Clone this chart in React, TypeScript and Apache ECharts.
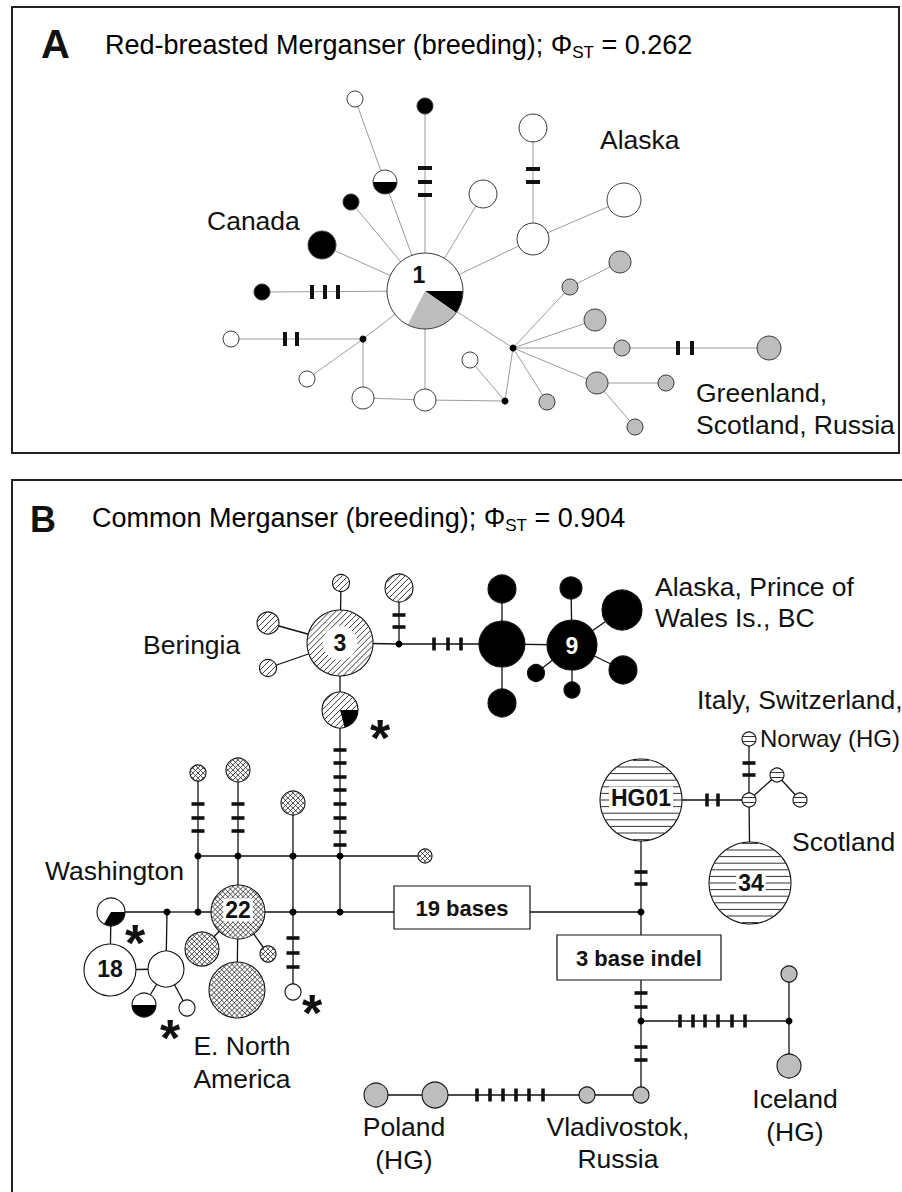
import React, { useEffect, useRef } from "react";
import * as echarts from "echarts";

// ---------- data ----------
// haplotype nodes: id, x, y, radius (haplotype frequency), population class
type Node = [string, number, number, number, string];

const nodesA: Node[] = [
  ["a1", 425, 291, 38, "W"],
  ["aTopW", 355, 99, 8, "W"],
  ["aTopK", 425, 106, 8, "K"],
  ["aHalf", 385, 182, 12, "W"],
  ["aK1", 351, 202, 8, "K"],
  ["aCan", 322, 245, 14, "K"],
  ["aKL", 262, 292, 8, "K"],
  ["aWL", 231, 339, 8, "W"],
  ["aD1", 363, 339, 3.5, "D"],
  ["aW2", 307, 379, 8, "W"],
  ["aW3", 363, 398, 11, "W"],
  ["aW4", 425, 400, 11, "W"],
  ["aD2", 505, 401, 3.5, "D"],
  ["aW5", 470, 360, 8, "W"],
  ["aD3", 513, 348, 3.5, "D"],
  ["aG1", 570, 287, 8, "G"],
  ["aG2", 620, 262, 11, "G"],
  ["aG3", 595, 320, 11, "G"],
  ["aG4", 622, 348, 8, "G"],
  ["aG5", 769, 348, 12, "G"],
  ["aG6", 597, 383, 11, "G"],
  ["aG7", 666, 383, 8, "G"],
  ["aG8", 635, 427, 8, "G"],
  ["aG9", 547, 402, 8, "G"],
  ["aW6", 483, 194, 14, "W"],
  ["aW7", 533, 239, 16, "W"],
  ["aW8", 533, 128, 14, "W"],
  ["aW9", 624, 200, 17, "W"],
];

const edgesA: [string, string][] = [
  ["aTopW", "aHalf"], ["aHalf", "a1"], ["aTopK", "a1"], ["aK1", "a1"], ["aCan", "a1"],
  ["aKL", "a1"], ["aWL", "aD1"], ["aD1", "a1"], ["aD1", "aW2"], ["aD1", "aW3"],
  ["aW3", "aW4"], ["aW4", "a1"], ["aW4", "aD2"], ["aD2", "aD3"], ["aD2", "aW5"],
  ["aD3", "a1"], ["aD3", "aG1"], ["aG1", "aG2"], ["aD3", "aG3"], ["aD3", "aG4"],
  ["aG4", "aG5"], ["aD3", "aG6"], ["aG6", "aG7"], ["aG6", "aG8"], ["aD3", "aG9"],
  ["a1", "aW6"], ["a1", "aW7"], ["aW7", "aW8"], ["aW7", "aW9"],
];

const nodesB: Node[] = [
  ["b3", 340, 643, 33, "DG"],
  ["bTop", 341, 583, 8.5, "DG"],
  ["bUL", 268, 623, 11, "DG"],
  ["bLL", 268, 668, 8.5, "DG"],
  ["bLow", 340, 710, 18, "DG"],
  ["bDot1", 399, 644, 3.5, "D"],
  ["bTR", 399, 588, 14, "DG"],
  ["bK", 502, 644, 23, "K"],
  ["bKt", 502, 589, 14, "K"],
  ["bKb", 502, 703, 14, "K"],
  ["b9", 572, 645, 25, "K"],
  ["b9t", 571, 588, 11, "K"],
  ["b9rt", 622, 610, 20, "K"],
  ["b9r", 623, 670, 14, "K"],
  ["b9ll", 536, 673, 8.5, "K"],
  ["b9b", 572, 690, 8, "K"],
  ["bV", 340, 856, 3.5, "D"],
  ["bH1", 198, 856, 3.5, "D"],
  ["bH2", 238, 856, 3.5, "D"],
  ["bH3", 293, 856, 3.5, "D"],
  ["bX1", 198, 773, 8, "X"],
  ["bX2", 238, 770, 12, "X"],
  ["bX3", 293, 803, 12, "X"],
  ["bX4", 425, 856, 7, "X"],
  ["bWash", 111, 912, 14, "W"],
  ["bL1", 167, 912, 3.5, "D"],
  ["bL2", 198, 912, 3.5, "D"],
  ["b22", 238, 912, 27, "X"],
  ["bL3", 293, 912, 3.5, "D"],
  ["bL4", 340, 912, 3.5, "D"],
  ["b19L", 394, 912, 0, "N"],
  ["b19R", 530, 912, 0, "N"],
  ["b18", 110, 970, 26, "W"],
  ["bOpen", 166, 969, 18, "W"],
  ["bHalf", 144, 1005, 12, "W"],
  ["bSm", 187, 1008, 8, "W"],
  ["bX5", 237, 990, 28, "X"],
  ["bX6", 202, 949, 17, "X"],
  ["bX7", 268, 954, 8, "X"],
  ["bW293", 293, 992, 8, "W"],
  ["bHG01", 641, 800, 41, "HZ"],
  ["bHJ", 749, 800, 7, "HZ"],
  ["bHT", 749, 739, 7, "HZ"],
  ["bHM", 777, 775, 7, "HZ"],
  ["bHR", 800, 800, 7, "HZ"],
  ["b34", 750, 883, 41, "HZ"],
  ["bD19", 641, 912, 3.5, "D"],
  ["bDI", 641, 1021, 3.5, "D"],
  ["bGV", 641, 1095, 8, "G"],
  ["bGV2", 587, 1095, 8, "G"],
  ["bPol2", 435, 1095, 13, "G"],
  ["bPol1", 376, 1095, 12, "G"],
  ["bDIce", 789, 1021, 3.5, "D"],
  ["bIceT", 789, 974, 8, "G"],
  ["bIceB", 789, 1066, 12, "G"],
];

const edgesB: [string, string][] = [
  ["b3", "bTop"], ["b3", "bUL"], ["b3", "bLL"], ["b3", "bLow"], ["b3", "bDot1"],
  ["bDot1", "bTR"], ["bDot1", "bK"], ["bK", "bKt"], ["bK", "bKb"], ["bK", "b9"],
  ["b9", "b9t"], ["b9", "b9rt"], ["b9", "b9r"], ["b9", "b9ll"], ["b9", "b9b"],
  ["bLow", "bV"], ["bV", "bL4"], ["bH1", "bH2"], ["bH2", "bH3"], ["bH3", "bV"], ["bV", "bX4"],
  ["bX1", "bH1"], ["bH1", "bL2"], ["bX2", "bH2"], ["bH2", "b22"], ["bX3", "bH3"], ["bH3", "bL3"],
  ["bL3", "bW293"],
  ["bWash", "bL1"], ["bL1", "bL2"], ["bL2", "b22"], ["b22", "bL3"], ["bL3", "bL4"], ["bL4", "b19L"],
  ["b19R", "bD19"],
  ["bWash", "b18"], ["b18", "bOpen"], ["bOpen", "bL1"], ["bOpen", "bHalf"], ["bOpen", "bSm"],
  ["b22", "bX5"], ["b22", "bX6"], ["b22", "bX7"],
  ["bHG01", "bD19"], ["bD19", "bDI"], ["bDI", "bGV"], ["bGV", "bGV2"], ["bGV2", "bPol2"], ["bPol2", "bPol1"],
  ["bDI", "bDIce"], ["bDIce", "bIceT"], ["bDIce", "bIceB"],
  ["bHG01", "bHJ"], ["bHJ", "bHT"], ["bHJ", "b34"], ["bHJ", "bHM"], ["bHM", "bHR"],
];

// mutation steps: x, y, orientation (h = bar across a vertical branch, v = bar across a horizontal branch)
const ticksA: [number, number, string][] = [
  [425, 168, "h"], [425, 182, "h"], [425, 195, "h"],
  [533, 169, "h"], [533, 182, "h"],
  [312, 292, "v"], [325, 292, "v"], [338, 292, "v"],
  [285, 339, "v"], [297, 339, "v"],
  [678, 348, "v"], [692, 348, "v"],
];

const ticksB: [number, number, string][] = [
  [399, 615, "h"], [399, 627, "h"],
  [340, 750, "h"], [340, 763, "h"], [340, 777, "h"], [340, 790, "h"],
  [340, 804, "h"], [340, 818, "h"], [340, 832, "h"], [340, 845, "h"],
  [198, 804, "h"], [198, 818, "h"], [198, 831, "h"],
  [238, 804, "h"], [238, 818, "h"], [238, 831, "h"],
  [293, 938, "h"], [293, 953, "h"], [293, 967, "h"],
  [641, 872, "h"], [641, 884, "h"],
  [641, 993, "h"], [641, 1007, "h"],
  [641, 1047, "h"], [641, 1060, "h"],
  [749, 763, "h"], [749, 775, "h"],
  [434, 644, "v"], [448, 644, "v"], [461, 644, "v"],
  [707, 800, "v"], [718, 800, "v"],
  [680, 1021, "v"], [693, 1021, "v"], [705, 1021, "v"], [718, 1021, "v"], [732, 1021, "v"], [745, 1021, "v"],
  [477, 1095, "v"], [490, 1095, "v"], [503, 1095, "v"], [516, 1095, "v"], [529, 1095, "v"], [543, 1095, "v"],
];

// shared haplotypes: node id, start angle, end angle (degrees, clockwise from 3 o'clock), population class
const pieSlices: [string, number, number, string][] = [
  ["a1", 0, 35, "K"], ["a1", 35, 117, "G"],
  ["aHalf", 0, 180, "K"],
  ["bHalf", 0, 180, "K"],
  ["bLow", 0, 75, "K"],
  ["bWash", 0, 120, "K"],
];

// haplotype numbers: text, x, y
const hapNumbers: [string, number, number][] = [
  ["1", 419, 275], ["3", 340, 643], ["9", 572, 646], ["22", 238, 910],
  ["18", 110, 969], ["HG01", 641, 798], ["34", 751, 883],
];

// boxed branch notes: text, x0, y0, x1, y1
const boxes: [string, number, number, number, number][] = [
  ["19 bases", 394, 886, 530, 929],
  ["3 base indel", 557, 935, 721, 980],
];

// region labels: text, x, y, align, size
const regionLabels: [string, number, number, string, number][] = [
  ["Canada", 207, 221, "left", 26.5],
  ["Alaska", 600, 140, "left", 26.5],
  ["Greenland,", 696, 393, "left", 26.5],
  ["Scotland, Russia", 696, 425, "left", 26.5],
  ["Beringia", 143, 645, "left", 26.5],
  ["Alaska, Prince of", 655, 587, "left", 26.5],
  ["Wales Is., BC", 655, 618, "left", 26.5],
  ["Italy, Switzerland,", 697, 700, "left", 26.5],
  ["Norway (HG)", 760, 738, "left", 24],
  ["Scotland", 792, 842, "left", 26.5],
  ["Washington", 45, 871, "left", 26.5],
  ["E. North", 242, 1046, "center", 26.5],
  ["America", 242, 1079, "center", 26.5],
  ["Poland", 404, 1127, "center", 26.5],
  ["(HG)", 404, 1160, "center", 26.5],
  ["Vladivostok,", 618, 1127, "center", 26.5],
  ["Russia", 618, 1159, "center", 26.5],
  ["Iceland", 795, 1099, "center", 26.5],
  ["(HG)", 795, 1132, "center", 26.5],
];

// non-breeding-range haplotype markers
const asterisks: [number, number][] = [[380, 727], [135, 932], [170, 1027], [312, 1002]];

// ---------- styling ----------
const FONT = "'Liberation Sans', Arial, Helvetica, sans-serif";
const GREY = "#bdbdbd";
const FILLS: Record<string, string> = { W: "#ffffff", K: "#000000", D: "#000000", G: GREY, DG: "#ffffff", X: "#ffffff", HZ: "#ffffff" };

function chords(cx: number, cy: number, r: number, angleDeg: number, step: number, phase: number, color: string, lw: number) {
  const a = (angleDeg * Math.PI) / 180;
  const dx = Math.cos(a), dy = Math.sin(a);
  const nx = -dy, ny = dx;
  const out: any[] = [];
  const n = Math.ceil(r / step) + 1;
  for (let i = -n; i <= n; i++) {
    const t = (i + phase) * step;
    const h2 = r * r - t * t;
    if (h2 <= 1) continue;
    const h = Math.sqrt(h2);
    const px = cx + nx * t, py = cy + ny * t;
    out.push({
      type: "line",
      shape: { x1: px - dx * h, y1: py - dy * h, x2: px + dx * h, y2: py + dy * h },
      style: { stroke: color, lineWidth: lw },
    });
  }
  return out;
}

function makeNodeRender(nodes: Node[], panel: string) {
  return (params: any, api: any) => {
    const n = nodes[params.dataIndex];
    const kind = n[4];
    if (kind === "N") return { type: "group", children: [] };
    const [cx, cy] = api.coord([n[1], n[2]]);
    const r = api.size([n[3], 0])[0];
    const children: any[] = [];
    children.push({ type: "circle", shape: { cx, cy, r }, style: { fill: FILLS[kind], stroke: "none" } });
    if (kind === "DG") children.push(...chords(cx, cy, r - 0.6, -45, 4.2, 0, "#222", 0.9));
    if (kind === "X") {
      children.push(...chords(cx, cy, r - 0.6, -45, 3.6, 0, "#222", 0.8));
      children.push(...chords(cx, cy, r - 0.6, 45, 3.6, 0, "#222", 0.8));
    }
    if (kind === "HZ") children.push(...chords(cx, cy, r - 0.6, 0, r > 20 ? 6.6 : 5, r > 20 ? 0 : 0.5, "#333", 1));
    if (n[0] === "b3") children.push({ type: "circle", shape: { cx, cy, r: r * 0.52 }, style: { fill: "#fff" } });
    pieSlices.filter((p) => p[0] === n[0]).forEach((p) => {
      children.push({
        type: "sector",
        shape: { cx, cy, r, r0: 0, startAngle: (p[1] * Math.PI) / 180, endAngle: (p[2] * Math.PI) / 180, clockwise: true },
        style: { fill: FILLS[p[3]] },
      });
    });
    if (kind !== "D") {
      children.push({
        type: "circle",
        shape: { cx, cy, r },
        style: { fill: "none", stroke: panel === "A" ? "#3a3a3a" : "#111", lineWidth: panel === "A" ? 1 : 1.1 },
      });
    }
    return { type: "group", children };
  };
}

function edgeData(nodes: Node[], edges: [string, string][]) {
  const m: Record<string, Node> = {};
  nodes.forEach((n) => (m[n[0]] = n));
  return edges.map(([a, b]) => [m[a][1], m[a][2], m[b][1], m[b][2]]);
}

function makeEdgeRender(color: string, lw: number) {
  return (params: any, api: any) => {
    const p1 = api.coord([api.value(0), api.value(1)]);
    const p2 = api.coord([api.value(2), api.value(3)]);
    return { type: "line", shape: { x1: p1[0], y1: p1[1], x2: p2[0], y2: p2[1] }, style: { stroke: color, lineWidth: lw } };
  };
}

function makeTickRender(ticks: [number, number, string][], len: number, thick: number) {
  return (params: any, api: any) => {
    const t = ticks[params.dataIndex];
    const [x, y] = api.coord([t[0], t[1]]);
    const w = t[2] === "h" ? len : thick;
    const h = t[2] === "h" ? thick : len;
    return { type: "rect", shape: { x: x - w / 2, y: y - h / 2, width: w, height: h }, style: { fill: "#111" } };
  };
}

export default function App() {
  const ref = useRef<HTMLDivElement>(null);
  useEffect(() => {
    if (!ref.current) return;
    const chart = echarts.init(ref.current, undefined, { renderer: "svg" });
    const titleRich = {
      t: { fontSize: 27, fontFamily: FONT, color: "#111", lineHeight: 32 },
      s: { fontSize: 17, fontFamily: FONT, color: "#111", lineHeight: 14, verticalAlign: "bottom" },
    };
    const option: any = {
      animation: false,
      backgroundColor: "#ffffff",
      grid: { left: 0, right: 0, top: 0, bottom: 0 },
      xAxis: { type: "value", min: 0, max: 902, show: false },
      yAxis: { type: "value", min: 0, max: 1192, inverse: true, show: false },
      graphic: [
        { type: "rect", shape: { x: 12, y: 7, width: 887, height: 446 }, style: { fill: "none", stroke: "#222", lineWidth: 2 }, z: 0 },
        { type: "rect", shape: { x: 12, y: 480, width: 920, height: 760 }, style: { fill: "none", stroke: "#222", lineWidth: 2 }, z: 0 },
        { type: "text", style: { text: "A", x: 41, y: 44, font: `bold 40px ${FONT}`, fill: "#111", verticalAlign: "middle" }, z: 10 },
        {
          type: "text",
          style: { text: "{t|Red-breasted Merganser (breeding); Φ}{s|ST}{t| = 0.262}", x: 105, y: 45, rich: titleRich, verticalAlign: "middle" },
          z: 10,
        },
        { type: "text", style: { text: "B", x: 30, y: 519, font: `bold 36px ${FONT}`, fill: "#111", verticalAlign: "middle" }, z: 10 },
        {
          type: "text",
          style: { text: "{t|Common Merganser (breeding); Φ}{s|ST}{t| = 0.904}", x: 92, y: 518, rich: titleRich, verticalAlign: "middle" },
          z: 10,
        },
      ],
      series: [
        { type: "custom", name: "edgesA", clip: false, z: 1, data: edgeData(nodesA, edgesA), renderItem: makeEdgeRender("#9c9c9c", 1) },
        { type: "custom", name: "edgesB", clip: false, z: 1, data: edgeData(nodesB, edgesB), renderItem: makeEdgeRender("#111", 1.3) },
        { type: "custom", name: "nodesA", clip: false, z: 2, data: nodesA.map((n) => [n[1], n[2], n[3]]), renderItem: makeNodeRender(nodesA, "A") },
        { type: "custom", name: "nodesB", clip: false, z: 2, data: nodesB.map((n) => [n[1], n[2], n[3]]), renderItem: makeNodeRender(nodesB, "B") },
        { type: "custom", name: "ticksA", clip: false, z: 3, data: ticksA.map((t) => [t[0], t[1]]), renderItem: makeTickRender(ticksA, 14, 4) },
        { type: "custom", name: "ticksB", clip: false, z: 3, data: ticksB.map((t) => [t[0], t[1]]), renderItem: makeTickRender(ticksB, 13, 3.6) },
        {
          type: "custom", name: "boxes", clip: false, z: 4,
          data: boxes.map((b) => [b[1], b[2], b[3], b[4]]),
          renderItem: (params: any, api: any) => {
            const b = boxes[params.dataIndex];
            const p0 = api.coord([b[1], b[2]]);
            const p1 = api.coord([b[3], b[4]]);
            return {
              type: "group",
              children: [
                { type: "rect", shape: { x: p0[0], y: p0[1], width: p1[0] - p0[0], height: p1[1] - p0[1] }, style: { fill: "#fff", stroke: "#111", lineWidth: 1.2 } },
                { type: "text", style: { text: b[0], x: (p0[0] + p1[0]) / 2, y: (p0[1] + p1[1]) / 2 + 1, align: "center", verticalAlign: "middle", font: `bold 22px ${FONT}`, fill: "#111" } },
              ],
            };
          },
        },
        {
          type: "custom", name: "hapNumbers", clip: false, z: 5,
          data: hapNumbers.map((h) => [h[1], h[2]]),
          renderItem: (params: any, api: any) => {
            const h = hapNumbers[params.dataIndex];
            const [x, y] = api.coord([h[1], h[2]]);
            const onBlack = h[0] === "9";
            const boxed = h[0] === "22" || h[0] === "HG01" || h[0] === "34";
            return {
              type: "text",
              style: {
                text: h[0], x, y, align: "center", verticalAlign: "middle",
                font: `bold 23px ${FONT}`, fill: onBlack ? "#fff" : "#111",
                backgroundColor: boxed ? "#fff" : undefined,
                padding: boxed ? [0, 2, 0, 2] : 0,
              },
            };
          },
        },
        {
          type: "custom", name: "regionLabels", clip: false, z: 5,
          data: regionLabels.map((l) => [l[1], l[2]]),
          renderItem: (params: any, api: any) => {
            const l = regionLabels[params.dataIndex];
            const [x, y] = api.coord([l[1], l[2]]);
            return { type: "text", style: { text: l[0], x, y, align: l[3], verticalAlign: "middle", font: `${l[4]}px ${FONT}`, fill: "#111" } };
          },
        },
        {
          type: "custom", name: "asterisks", clip: false, z: 5,
          data: asterisks.map((a) => [a[0], a[1]]),
          renderItem: (params: any, api: any) => {
            const [x, y] = api.coord([api.value(0), api.value(1)]);
            return { type: "text", style: { text: "*", x, y: y + 11, align: "center", verticalAlign: "middle", font: `bold 52px ${FONT}`, fill: "#111" } };
          },
        },
      ],
    };
    chart.setOption(option);
    return () => chart.dispose();
  }, []);
  return <div ref={ref} style={{ position: "absolute", left: 0, top: 0, width: 902, height: 1192 }} />;
}
